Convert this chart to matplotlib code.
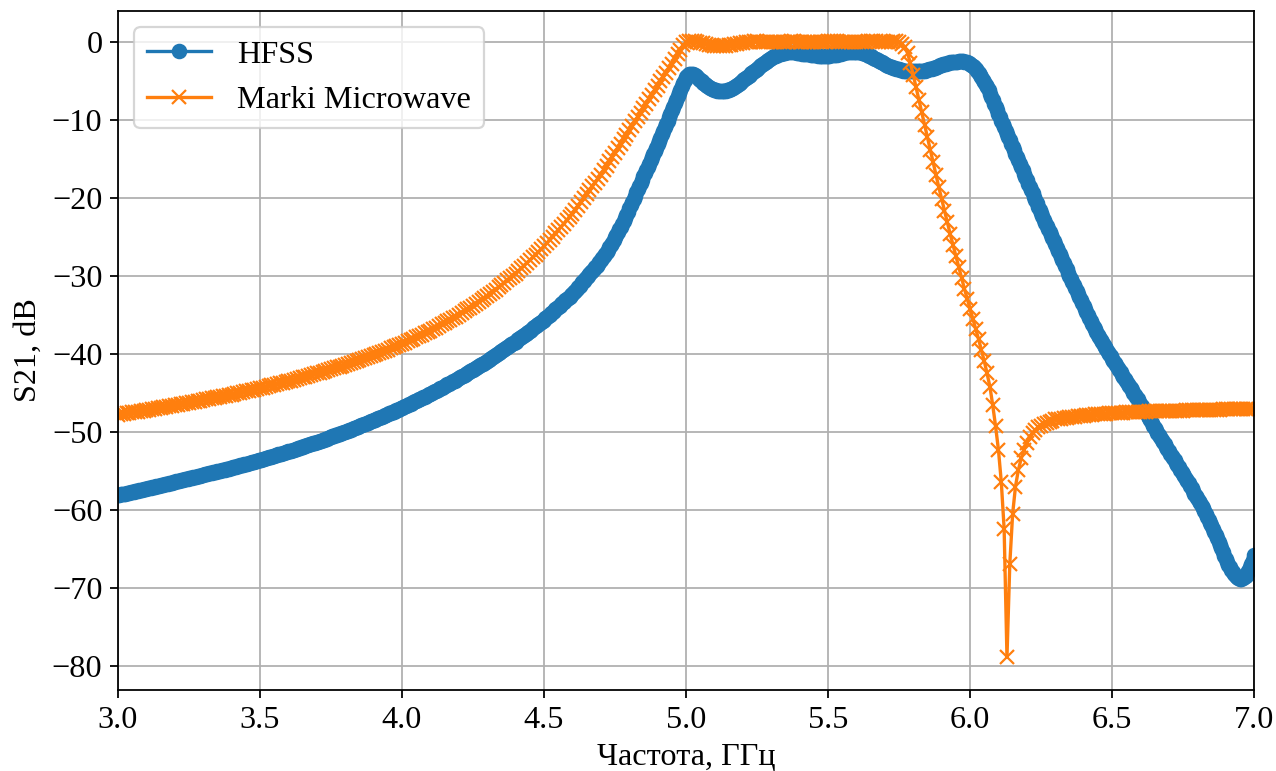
import numpy as np
import matplotlib
matplotlib.use("Agg")
import matplotlib.pyplot as plt

plt.rcParams["font.family"] = ["Liberation Serif", "DejaVu Serif"]
plt.rcParams["font.size"] = 14.5

# HFSS sweep: 3-7 GHz, 5 MHz step
hfss_start, hfss_stop, hfss_points = 3.0, 7.0, 801
freq_hfss = np.linspace(hfss_start, hfss_stop, hfss_points)

# S21 from the HFSS model, dB (two lines per 100 MHz)
s21_hfss = [
    -58.10, -58.06, -58.02, -57.98, -57.94, -57.90, -57.86, -57.82, -57.78, -57.74,
    -57.70, -57.66, -57.62, -57.58, -57.54, -57.50, -57.46, -57.42, -57.38, -57.34,
    -57.30, -57.25, -57.21, -57.16, -57.12, -57.07, -57.03, -56.98, -56.94, -56.89,
    -56.85, -56.80, -56.76, -56.71, -56.67, -56.62, -56.58, -56.53, -56.49, -56.44,
    -56.40, -56.35, -56.31, -56.26, -56.22, -56.17, -56.13, -56.08, -56.04, -55.99,
    -55.95, -55.90, -55.86, -55.81, -55.77, -55.72, -55.68, -55.63, -55.59, -55.54,
    -55.50, -55.45, -55.41, -55.36, -55.32, -55.27, -55.23, -55.18, -55.14, -55.09,
    -55.05, -55.00, -54.96, -54.91, -54.87, -54.82, -54.78, -54.73, -54.69, -54.64,
    -54.60, -54.55, -54.50, -54.45, -54.40, -54.35, -54.30, -54.25, -54.20, -54.15,
    -54.10, -54.05, -54.00, -53.95, -53.90, -53.85, -53.80, -53.75, -53.70, -53.65,
    -53.60, -53.54, -53.49, -53.43, -53.38, -53.32, -53.27, -53.21, -53.16, -53.10,
    -53.05, -52.99, -52.94, -52.88, -52.83, -52.77, -52.72, -52.66, -52.61, -52.55,
    -52.50, -52.44, -52.38, -52.32, -52.26, -52.20, -52.14, -52.08, -52.02, -51.96,
    -51.90, -51.84, -51.78, -51.72, -51.66, -51.60, -51.54, -51.48, -51.42, -51.36,
    -51.30, -51.23, -51.17, -51.10, -51.04, -50.97, -50.91, -50.84, -50.78, -50.71,
    -50.65, -50.58, -50.52, -50.45, -50.39, -50.32, -50.26, -50.19, -50.13, -50.06,
    -50.00, -49.92, -49.85, -49.77, -49.70, -49.62, -49.55, -49.47, -49.40, -49.32,
    -49.25, -49.17, -49.10, -49.02, -48.95, -48.87, -48.80, -48.72, -48.65, -48.57,
    -48.50, -48.42, -48.34, -48.26, -48.18, -48.10, -48.02, -47.94, -47.86, -47.78,
    -47.70, -47.62, -47.54, -47.46, -47.38, -47.30, -47.22, -47.14, -47.06, -46.98,
    -46.90, -46.81, -46.72, -46.63, -46.54, -46.45, -46.36, -46.27, -46.18, -46.09,
    -46.00, -45.91, -45.82, -45.73, -45.64, -45.55, -45.46, -45.37, -45.28, -45.19,
    -45.10, -45.00, -44.90, -44.80, -44.70, -44.60, -44.50, -44.40, -44.30, -44.20,
    -44.10, -44.00, -43.90, -43.80, -43.70, -43.60, -43.50, -43.40, -43.30, -43.20,
    -43.10, -42.99, -42.88, -42.77, -42.66, -42.55, -42.44, -42.33, -42.22, -42.11,
    -42.00, -41.89, -41.78, -41.67, -41.56, -41.45, -41.34, -41.23, -41.12, -41.01,
    -40.90, -40.78, -40.65, -40.53, -40.40, -40.28, -40.15, -40.03, -39.90, -39.78,
    -39.65, -39.53, -39.40, -39.28, -39.15, -39.03, -38.90, -38.78, -38.65, -38.53,
    -38.40, -38.26, -38.12, -37.98, -37.84, -37.70, -37.56, -37.42, -37.28, -37.14,
    -37.00, -36.86, -36.72, -36.58, -36.44, -36.30, -36.16, -36.02, -35.88, -35.74,
    -35.60, -35.44, -35.27, -35.11, -34.94, -34.78, -34.61, -34.45, -34.28, -34.12,
    -33.95, -33.79, -33.62, -33.46, -33.29, -33.13, -32.96, -32.80, -32.63, -32.47,
    -32.30, -32.09, -31.87, -31.66, -31.44, -31.23, -31.01, -30.80, -30.58, -30.37,
    -30.15, -29.94, -29.72, -29.51, -29.29, -29.08, -28.86, -28.65, -28.43, -28.22,
    -28.00, -27.74, -27.47, -27.19, -26.91, -26.62, -26.32, -26.01, -25.70, -25.38,
    -25.05, -24.71, -24.36, -24.01, -23.65, -23.28, -22.90, -22.51, -22.12, -21.72,
    -21.31, -20.90, -20.49, -20.08, -19.67, -19.26, -18.85, -18.44, -18.03, -17.62,
    -17.21, -16.80, -16.39, -15.98, -15.57, -15.16, -14.75, -14.34, -13.93, -13.52,
    -13.10, -12.68, -12.25, -11.82, -11.38, -10.94, -10.50, -10.05, -9.60, -9.15,
    -8.70, -8.25, -7.80, -7.36, -6.93, -6.51, -6.10, -5.68, -5.25, -4.85,
    -4.50, -4.28, -4.13, -4.07, -4.05, -4.10, -4.20, -4.34, -4.50, -4.67,
    -4.85, -5.03, -5.20, -5.36, -5.50, -5.63, -5.75, -5.86, -5.95, -6.03,
    -6.10, -6.15, -6.20, -6.23, -6.25, -6.26, -6.25, -6.23, -6.20, -6.15,
    -6.10, -6.03, -5.95, -5.86, -5.75, -5.63, -5.50, -5.35, -5.20, -5.05,
    -4.90, -4.75, -4.60, -4.45, -4.30, -4.15, -4.00, -3.85, -3.70, -3.55,
    -3.40, -3.25, -3.10, -2.95, -2.80, -2.65, -2.50, -2.37, -2.25, -2.12,
    -2.00, -1.90, -1.80, -1.72, -1.65, -1.57, -1.50, -1.45, -1.40, -1.37,
    -1.35, -1.32, -1.30, -1.30, -1.30, -1.30, -1.30, -1.32, -1.35, -1.37,
    -1.40, -1.42, -1.45, -1.47, -1.50, -1.52, -1.55, -1.57, -1.60, -1.62,
    -1.65, -1.67, -1.70, -1.72, -1.75, -1.75, -1.75, -1.75, -1.75, -1.75,
    -1.75, -1.73, -1.70, -1.68, -1.65, -1.63, -1.60, -1.55, -1.50, -1.45,
    -1.40, -1.35, -1.30, -1.27, -1.25, -1.22, -1.20, -1.20, -1.20, -1.20,
    -1.20, -1.22, -1.25, -1.30, -1.35, -1.42, -1.50, -1.57, -1.65, -1.72,
    -1.80, -1.90, -2.00, -2.10, -2.20, -2.30, -2.40, -2.50, -2.60, -2.70,
    -2.80, -2.90, -3.00, -3.08, -3.15, -3.23, -3.30, -3.35, -3.40, -3.45,
    -3.50, -3.55, -3.60, -3.63, -3.65, -3.68, -3.70, -3.73, -3.75, -3.75,
    -3.75, -3.75, -3.75, -3.75, -3.75, -3.73, -3.70, -3.68, -3.65, -3.60,
    -3.55, -3.50, -3.45, -3.40, -3.35, -3.28, -3.20, -3.13, -3.05, -2.98,
    -2.90, -2.85, -2.80, -2.75, -2.70, -2.65, -2.60, -2.58, -2.55, -2.53,
    -2.50, -2.48, -2.45, -2.45, -2.45, -2.47, -2.50, -2.55, -2.60, -2.69,
    -2.80, -2.91, -3.05, -3.21, -3.40, -3.63, -3.90, -4.19, -4.50, -4.80,
    -5.10, -5.44, -5.80, -6.19, -6.60, -7.02, -7.45, -7.87, -8.30, -8.75,
    -9.20, -9.63, -10.05, -10.48, -10.90, -11.33, -11.75, -12.18, -12.60, -13.03,
    -13.45, -13.88, -14.30, -14.73, -15.15, -15.58, -16.00, -16.43, -16.85, -17.28,
    -17.70, -18.13, -18.55, -18.98, -19.40, -19.83, -20.25, -20.68, -21.10, -21.53,
    -21.95, -22.35, -22.75, -23.15, -23.55, -23.95, -24.35, -24.75, -25.15, -25.55,
    -25.95, -26.35, -26.75, -27.15, -27.55, -27.95, -28.35, -28.75, -29.15, -29.55,
    -29.95, -30.35, -30.75, -31.15, -31.55, -31.95, -32.35, -32.73, -33.10, -33.48,
    -33.85, -34.23, -34.60, -34.98, -35.35, -35.73, -36.10, -36.48, -36.85, -37.20,
    -37.55, -37.88, -38.20, -38.50, -38.80, -39.10, -39.40, -39.70, -40.00, -40.30,
    -40.60, -40.89, -41.18, -41.47, -41.76, -42.05, -42.34, -42.63, -42.92, -43.21,
    -43.50, -43.79, -44.08, -44.37, -44.66, -44.95, -45.24, -45.53, -45.82, -46.11,
    -46.40, -46.70, -47.00, -47.30, -47.60, -47.90, -48.20, -48.53, -48.85, -49.18,
    -49.50, -49.80, -50.10, -50.40, -50.70, -51.00, -51.30, -51.60, -51.90, -52.20,
    -52.50, -52.79, -53.08, -53.37, -53.66, -53.95, -54.24, -54.53, -54.82, -55.11,
    -55.40, -55.70, -56.00, -56.30, -56.60, -56.93, -57.25, -57.58, -57.90, -58.20,
    -58.50, -58.83, -59.15, -59.48, -59.80, -60.15, -60.50, -60.88, -61.25, -61.63,
    -62.00, -62.40, -62.80, -63.23, -63.65, -64.08, -64.50, -64.95, -65.40, -65.85,
    -66.30, -66.68, -67.05, -67.38, -67.70, -67.98, -68.25, -68.45, -68.65, -68.76,
    -68.85, -68.84, -68.80, -68.65, -68.45, -68.15, -67.80, -67.38, -66.90, -66.37,
    -65.80,
]

# Marki Microwave datasheet: 3-7 GHz, 10 MHz step
marki_start, marki_stop, marki_points = 3.0, 7.0, 401
freq_marki = np.linspace(marki_start, marki_stop, marki_points)

# S21 from the Marki Microwave datasheet, dB (one line per 100 MHz)
s21_marki = [
    -47.80, -47.74, -47.68, -47.62, -47.56, -47.50, -47.44, -47.38, -47.32, -47.26,
    -47.20, -47.14, -47.08, -47.02, -46.96, -46.90, -46.84, -46.78, -46.72, -46.66,
    -46.60, -46.53, -46.46, -46.39, -46.32, -46.25, -46.18, -46.11, -46.04, -45.97,
    -45.90, -45.83, -45.76, -45.69, -45.62, -45.55, -45.48, -45.41, -45.34, -45.27,
    -45.20, -45.12, -45.04, -44.96, -44.88, -44.80, -44.72, -44.64, -44.56, -44.48,
    -44.40, -44.31, -44.22, -44.13, -44.04, -43.95, -43.86, -43.77, -43.68, -43.59,
    -43.50, -43.40, -43.30, -43.20, -43.10, -43.00, -42.90, -42.80, -42.70, -42.60,
    -42.50, -42.39, -42.28, -42.17, -42.06, -41.95, -41.84, -41.73, -41.62, -41.51,
    -41.40, -41.28, -41.15, -41.03, -40.90, -40.78, -40.65, -40.53, -40.40, -40.28,
    -40.15, -40.01, -39.86, -39.72, -39.57, -39.43, -39.28, -39.14, -38.99, -38.85,
    -38.70, -38.53, -38.36, -38.19, -38.02, -37.85, -37.68, -37.51, -37.34, -37.17,
    -37.00, -36.80, -36.60, -36.40, -36.20, -36.00, -35.80, -35.60, -35.40, -35.20,
    -35.00, -34.76, -34.52, -34.28, -34.04, -33.80, -33.56, -33.32, -33.08, -32.84,
    -32.60, -32.31, -32.02, -31.73, -31.44, -31.15, -30.86, -30.57, -30.28, -29.99,
    -29.70, -29.35, -29.00, -28.65, -28.30, -27.95, -27.60, -27.25, -26.90, -26.55,
    -26.20, -25.78, -25.36, -24.94, -24.52, -24.10, -23.68, -23.26, -22.84, -22.42,
    -22.00, -21.50, -21.00, -20.50, -20.00, -19.50, -19.00, -18.50, -18.00, -17.50,
    -17.00, -16.43, -15.86, -15.29, -14.72, -14.15, -13.58, -13.01, -12.44, -11.87,
    -11.30, -10.73, -10.16, -9.59, -9.02, -8.45, -7.88, -7.31, -6.74, -6.17,
    -5.60, -5.03, -4.46, -3.89, -3.32, -2.75, -2.15, -1.55, -0.95, -0.40,
    0.00, 0.15, 0.20, 0.15, 0.05, -0.05, -0.15, -0.25, -0.35, -0.40,
    -0.45, -0.48, -0.50, -0.48, -0.45, -0.40, -0.33, -0.25, -0.18, -0.10,
    -0.05, 0.00, 0.05, 0.08, 0.10, 0.10, 0.08, 0.05, 0.02, 0.00,
    -0.02, -0.03, -0.02, 0.00, 0.03, 0.06, 0.08, 0.10, 0.10, 0.09,
    0.07, 0.05, 0.03, 0.02, 0.01, 0.01, 0.02, 0.04, 0.06, 0.08,
    0.10, 0.11, 0.12, 0.11, 0.09, 0.07, 0.05, 0.03, 0.02, 0.02,
    0.03, 0.05, 0.07, 0.09, 0.11, 0.12, 0.12, 0.11, 0.09, 0.07,
    0.05, 0.06, 0.08, 0.10, 0.12, 0.08, -0.20, -0.60, -1.40, -2.70,
    -4.20, -5.80, -7.40, -9.00, -10.60, -12.20, -13.80, -15.40, -17.00, -18.60,
    -20.10, -21.60, -23.10, -24.60, -26.00, -27.40, -28.80, -30.20, -31.60, -32.90,
    -34.20, -35.50, -36.80, -38.10, -39.50, -40.90, -42.50, -44.20, -46.60, -49.30,
    -52.30, -56.40, -62.40, -78.90, -66.90, -60.50, -57.00, -54.90, -53.40, -52.30,
    -51.40, -50.70, -50.10, -49.70, -49.40, -49.20, -49.00, -48.80, -48.70, -48.55,
    -48.40, -48.34, -48.28, -48.22, -48.16, -48.10, -48.06, -48.02, -47.98, -47.94,
    -47.90, -47.86, -47.82, -47.78, -47.74, -47.70, -47.68, -47.66, -47.64, -47.62,
    -47.60, -47.58, -47.56, -47.54, -47.52, -47.50, -47.48, -47.46, -47.44, -47.42,
    -47.40, -47.39, -47.38, -47.37, -47.36, -47.35, -47.34, -47.33, -47.32, -47.31,
    -47.30, -47.29, -47.28, -47.27, -47.26, -47.25, -47.24, -47.23, -47.22, -47.21,
    -47.20, -47.19, -47.18, -47.17, -47.16, -47.15, -47.14, -47.13, -47.12, -47.11,
    -47.10, -47.09, -47.08, -47.07, -47.06, -47.05, -47.04, -47.03, -47.02, -47.01,
    -47.00,
]

x_ticks = [3.0, 3.5, 4.0, 4.5, 5.0, 5.5, 6.0, 6.5, 7.0]
y_ticks = [-80, -70, -60, -50, -40, -30, -20, -10, 0]

DPI = 160
fig = plt.figure(figsize=(1276 / DPI, 771 / DPI), dpi=DPI)
ax = fig.add_axes([0.0925, 0.1051, 0.8903, 0.8806])

ax.plot(freq_hfss, s21_hfss, marker="o", color="#1f77b4", label="HFSS")
ax.plot(freq_marki, s21_marki, marker="x", color="#ff7f0e", label="Marki Microwave")

ax.set_xlim(3.0, 7.0)
ax.set_ylim(-83.1, 4.0)
ax.set_xticks(x_ticks)
ax.set_yticks(y_ticks)
ax.set_xlabel("Частота, ГГц")
ax.set_ylabel("S21, dB")
ax.grid(True)
ax.legend(loc="upper left")

fig.savefig("out.png", dpi=DPI)
